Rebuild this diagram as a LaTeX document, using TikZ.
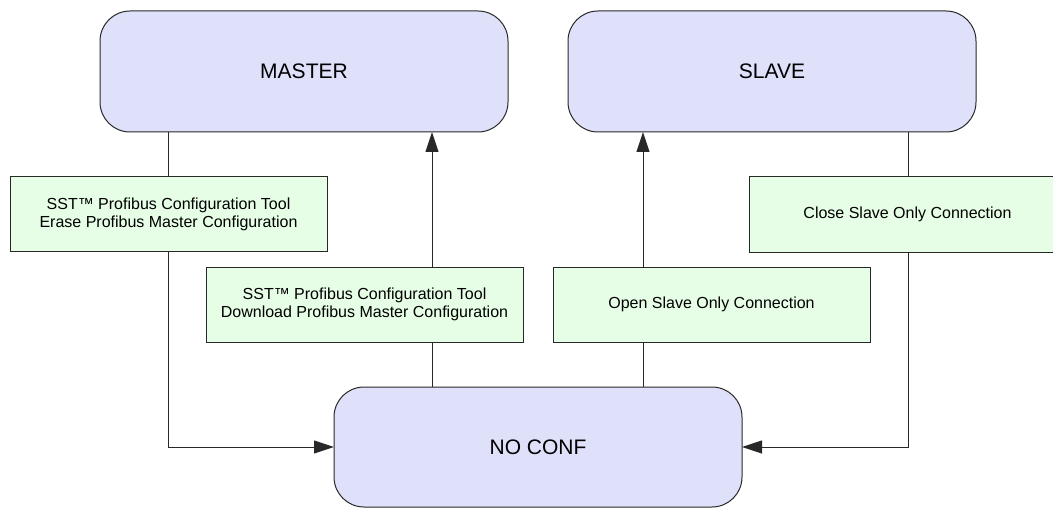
\documentclass[tikz,border=0pt]{standalone}
\usepackage{fontspec}
\setmainfont{Liberation Sans}
\usetikzlibrary{arrows.meta}
\definecolor{stateblue}{RGB}{223,224,250}
\definecolor{actgreen}{RGB}{230,253,230}
\definecolor{edge}{RGB}{40,40,40}
\tikzset{
  state/.style={draw=edge, line width=1pt, fill=stateblue, rounded corners=30pt,
    minimum width=408pt, minimum height=121pt, inner sep=0pt, outer sep=0pt,
    font=\fontsize{21}{24}\selectfont},
  action/.style={draw=edge, line width=1pt, fill=actgreen,
    minimum width=317pt, minimum height=75pt, inner sep=0pt, outer sep=0pt,
    align=center, font=\fontsize{16}{18}\selectfont},
  conn/.style={draw=edge, line width=1pt},
  arr/.style={conn, -{Triangle[length=20pt,width=13pt]}}
}
\begin{document}
\begin{tikzpicture}[x=1pt,y=-1pt]
\useasboundingbox (0,0) rectangle (1053,508);
\node[state] (master) at (304,71.5) {MASTER};
\node[state] (slave) at (772,71.5) {SLAVE};
\node[state, minimum height=120pt] (noconf) at (538,447) {NO CONF};
\node[action, minimum height=74pt] (erase) at (168.5,214) {SST™ Profibus Configuration Tool\\Erase Profibus Master Configuration};
\node[action] (download) at (364.5,304.5) {SST™ Profibus Configuration Tool\\Download Profibus Master Configuration};
\node[action] (open) at (711.5,304.5) {Open Slave Only Connection};
\node[action] (close) at (907.5,214.5) {Close Slave Only Connection};
% MASTER -> NO CONF via Erase
\draw[conn] (master.south -| 168,0) -- (erase.north -| 168,0);
\draw[arr] (erase.south -| 168,0) |- (noconf.west);
% NO CONF -> MASTER via Download
\draw[conn] (noconf.north -| 432,0) -- (download.south -| 432,0);
\draw[arr] (download.north -| 432,0) -- (master.south -| 432,0);
% NO CONF -> SLAVE via Open
\draw[conn] (noconf.north -| 643,0) -- (open.south -| 643,0);
\draw[arr] (open.north -| 643,0) -- (slave.south -| 643,0);
% SLAVE -> NO CONF via Close
\draw[conn] (slave.south -| 908,0) -- (close.north -| 908,0);
\draw[arr] (close.south -| 908,0) |- (noconf.east);
\end{tikzpicture}
\end{document}
